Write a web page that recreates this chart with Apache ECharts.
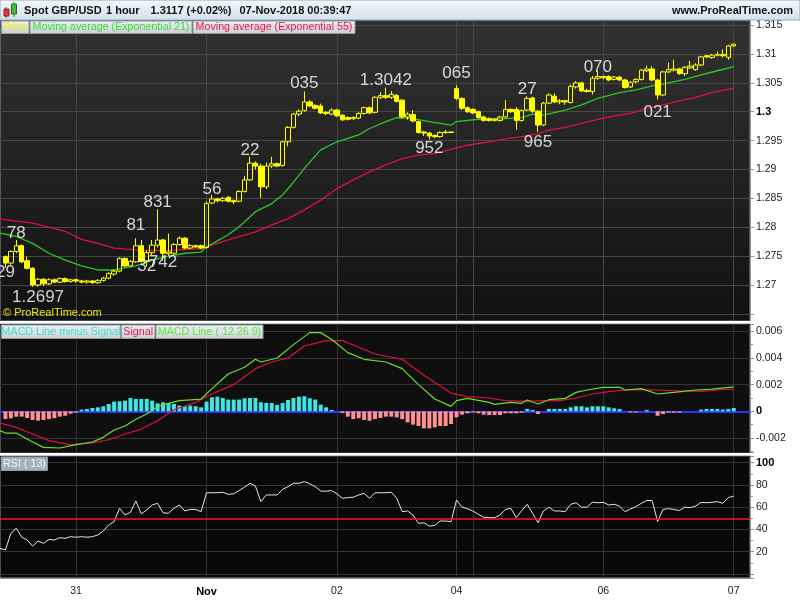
<!DOCTYPE html>
<html><head><meta charset="utf-8">
<script src="https://cdn.jsdelivr.net/npm/echarts@6/dist/echarts.min.js"></script>
<style>html,body{margin:0;padding:0;background:#fff}#c{width:800px;height:600px}</style>
</head><body><div id="c"></div>
<script>
// ---------- DATA ----------
const sessions = [['30-Oct',10,23],['31-Oct',0,23],['01-Nov',0,23],['02-Nov',0,21],['04-Nov',21,23],['05-Nov',0,23],['06-Nov',0,23],['07-Nov',0,3]];
const categories = [];
sessions.forEach(s => { for (let h = s[1]; h <= s[2]; h++) categories.push(s[0] + ' ' + String(h).padStart(2,'0') + ':00'); });

const xTickIndex = [14,38,62,84,111,135];
const xTickLabels = ['31','Nov','02','04','06','07'];
const xGridIndex = [14,38,62,84,87,111,135];

// [open, close, low, high]
const candles = [
null,
[1.2749,1.2738,1.2730,1.2751],[1.2738,1.2758,1.2735,1.2760],[1.2758,1.2768,1.2755,1.2778],[1.2768,1.2740,1.2738,1.2770],
[1.2742,1.2729,1.2727,1.2749],[1.2729,1.2700,1.2697,1.2731],[1.2700,1.2710,1.2697,1.2712],[1.2710,1.2702,1.2698,1.2712],
[1.2702,1.2709,1.2700,1.2712],[1.2709,1.2705,1.2703,1.2711],[1.2705,1.2711,1.2703,1.2713],[1.2711,1.2706,1.2704,1.2713],
[1.2706,1.2709,1.2704,1.2711],[1.2709,1.2707,1.2704,1.2711],[1.2707,1.2705,1.2703,1.2709],[1.2705,1.2707,1.2702,1.2709],
[1.2707,1.2704,1.2702,1.2709],[1.2704,1.2708,1.2702,1.2710],[1.2708,1.2712,1.2706,1.2714],[1.2712,1.2720,1.2710,1.2722],
[1.2719,1.2724,1.2716,1.2727],[1.2724,1.2746,1.2722,1.2748],[1.2746,1.2733,1.2731,1.2748],[1.2733,1.2741,1.2732,1.2743],
[1.2740,1.2768,1.2738,1.2781],[1.2768,1.2741,1.2739,1.2778],[1.2742,1.2756,1.2732,1.2760],[1.2756,1.2769,1.2752,1.2778],
[1.2769,1.2778,1.2765,1.2831],[1.2778,1.2755,1.2742,1.2780],[1.2754,1.2757,1.2750,1.2789],[1.2755,1.2770,1.2752,1.2773],
[1.2770,1.2781,1.2768,1.2784],[1.2781,1.2764,1.2762,1.2783],[1.2764,1.2768,1.2762,1.2771],[1.2768,1.2766,1.2764,1.2770],
[1.2768,1.2764,1.2762,1.2770],[1.2765,1.2841,1.2763,1.2845],[1.2842,1.2849,1.2840,1.2856],[1.2849,1.2846,1.2843,1.2851],
[1.2846,1.2850,1.2844,1.2853],[1.2852,1.2845,1.2843,1.2854],[1.2846,1.2844,1.2840,1.2848],[1.2845,1.2862,1.2843,1.2864],
[1.2862,1.2882,1.2860,1.2889],[1.2882,1.2911,1.2880,1.2922],[1.2911,1.2906,1.2900,1.2914],[1.2906,1.2870,1.2851,1.2910],
[1.2870,1.2906,1.2866,1.2912],[1.2906,1.2910,1.2903,1.2922],[1.2910,1.2906,1.2904,1.2912],[1.2907,1.2948,1.2905,1.2950],
[1.2948,1.2973,1.2940,1.2975],[1.2973,1.2996,1.2971,1.2998],[1.2996,1.3001,1.2992,1.3004],[1.3002,1.3017,1.3000,1.3035],
[1.3017,1.3010,1.3008,1.3020],[1.3011,1.3006,1.3004,1.3013],[1.3010,1.2998,1.2996,1.3014],[1.2999,1.2997,1.2994,1.3001],
[1.2996,1.3003,1.2994,1.3006],[1.3003,1.2993,1.2991,1.3005],[1.2994,1.2986,1.2984,1.2996],[1.2990,1.2987,1.2985,1.2992],
[1.2988,1.2990,1.2986,1.2992],[1.2989,1.2997,1.2987,1.2999],[1.2997,1.3007,1.2995,1.3009],[1.3007,1.2998,1.2996,1.3009],
[1.2999,1.3025,1.2997,1.3027],[1.3025,1.3028,1.3022,1.3034],[1.3028,1.3025,1.3022,1.3042],[1.3025,1.3030,1.3022,1.3036],
[1.3028,1.3018,1.3016,1.3031],[1.3020,1.2991,1.2988,1.3022],[1.2991,1.2996,1.2986,1.2999],[1.2995,1.2984,1.2982,1.3003],
[1.2983,1.2964,1.2962,1.2985],[1.2965,1.2963,1.2958,1.2967],[1.2963,1.2958,1.2952,1.2965],[1.2959,1.2957,1.2954,1.2961],
[1.2957,1.2964,1.2955,1.2966],[1.2964,1.2965,1.2962,1.2968],[1.2965,1.2964,1.2964,1.2965],[1.3040,1.3023,1.3020,1.3046],
[1.3023,1.3006,1.3003,1.3025],[1.3007,1.3000,1.2998,1.3009],[1.3004,1.2998,1.2996,1.3006],[1.3000,1.2990,1.2988,1.3002],
[1.2991,1.2985,1.2983,1.2993],[1.2988,1.2985,1.2983,1.2990],[1.2985,1.2987,1.2983,1.2989],[1.2985,1.2991,1.2983,1.2993],
[1.2991,1.3004,1.2989,1.3020],[1.3004,1.3000,1.2998,1.3006],[1.3004,1.2985,1.2969,1.3008],[1.2985,1.3002,1.2983,1.3004],
[1.3003,1.3023,1.3001,1.3027],[1.3024,1.3001,1.2998,1.3026],[1.3001,1.2977,1.2965,1.3003],[1.2977,1.3015,1.2975,1.3017],
[1.3015,1.3029,1.3013,1.3032],[1.3027,1.3017,1.3015,1.3032],[1.3017,1.3019,1.3013,1.3022],[1.3019,1.3017,1.3012,1.3021],
[1.3016,1.3044,1.3014,1.3047],[1.3043,1.3050,1.3040,1.3053],[1.3050,1.3036,1.3034,1.3052],[1.3037,1.3035,1.3033,1.3040],
[1.3035,1.3058,1.3030,1.3062],[1.3058,1.3061,1.3055,1.3070],[1.3061,1.3059,1.3056,1.3063],[1.3061,1.3055,1.3053,1.3063],
[1.3056,1.3060,1.3054,1.3062],[1.3060,1.3055,1.3053,1.3062],[1.3055,1.3042,1.3040,1.3057],[1.3043,1.3051,1.3041,1.3053],
[1.3052,1.3056,1.3049,1.3058],[1.3056,1.3072,1.3054,1.3074],[1.3071,1.3074,1.3069,1.3080],[1.3074,1.3055,1.3053,1.3079],
[1.3055,1.3029,1.3021,1.3057],[1.3029,1.3069,1.3027,1.3071],[1.3069,1.3073,1.3067,1.3085],[1.3072,1.3074,1.3070,1.3090],
[1.3074,1.3066,1.3064,1.3076],[1.3066,1.3077,1.3062,1.3079],[1.3076,1.3079,1.3074,1.3088],[1.3073,1.3081,1.3071,1.3084],
[1.3081,1.3095,1.3079,1.3097],[1.3097,1.3095,1.3093,1.3099],[1.3094,1.3098,1.3092,1.3100],[1.3098,1.3099,1.3096,1.3104],
[1.3099,1.3097,1.3094,1.3108],[1.3094,1.3114,1.3090,1.3116],[1.3114,1.3117,1.3112,1.3118]
];

// moving averages: [bar index, value]
const ema21 = [[0,1.2790],[3,1.2784],[6,1.2772],[9,1.2755],[12,1.2743],[15,1.2733],[18,1.2726],[21,1.2726],[25,1.2733],[28,1.2743],[31,1.2750],[34,1.2755],[37,1.2757],[38,1.2766],[42,1.2787],[44,1.2801],[47,1.2827],[50,1.2841],[52,1.2856],[54,1.2878],[56,1.2902],[59,1.2934],[62,1.2948],[66,1.2960],[68,1.2971],[71,1.2983],[73,1.2990],[76,1.2988],[79,1.2983],[83,1.2977],[84,1.2983],[88,1.2987],[93,1.2988],[96,1.2990],[98,1.2996],[100,1.2994],[104,1.3003],[107,1.3012],[110,1.3023],[114,1.3033],[117,1.3038],[120,1.3045],[123,1.3050],[126,1.3056],[129,1.3064],[132,1.3071],[135,1.3078]];
const ema55 = [[0,1.2814],[6,1.2807],[12,1.2793],[15,1.2779],[18,1.2772],[21,1.2764],[26,1.2760],[31,1.2760],[37,1.2763],[40,1.2772],[43,1.2781],[47,1.2792],[50,1.2804],[53,1.2815],[56,1.2830],[59,1.2847],[62,1.2867],[65,1.2882],[68,1.2896],[71,1.2908],[74,1.2919],[77,1.2925],[80,1.2928],[83,1.2935],[86,1.2942],[90,1.2948],[93,1.2953],[96,1.2957],[99,1.2962],[101,1.2968],[104,1.2973],[107,1.2980],[110,1.2987],[113,1.2993],[116,1.2997],[119,1.3006],[122,1.3012],[125,1.3019],[128,1.3025],[131,1.3033],[135,1.3041]];

// MACD (12 26 9)
const macdLine = [[0,-0.00145],[1,-0.00163],[3,-0.00163],[6,-0.0023],[8,-0.0027],[11,-0.00275],[14,-0.0025],[17,-0.0023],[19,-0.00195],[21,-0.0014],[23,-0.0011],[25,-0.0006],[27,-0.0002],[29,0.00037],[31,0.0006],[33,0.0008],[37,0.00092],[39,0.0017],[42,0.0028],[45,0.0033],[47,0.0039],[48,0.0037],[51,0.0040],[54,0.0050],[57,0.0059],[59,0.0059],[61,0.0054],[64,0.0044],[67,0.0039],[71,0.0037],[74,0.0032],[77,0.0020],[80,0.00092],[83,0.00037],[84,0.0008],[86,0.00097],[90,0.00067],[91,0.00052],[94,0.00067],[96,0.0006],[97,0.00085],[99,0.00055],[101,0.00087],[104,0.00097],[106,0.00142],[108,0.0016],[111,0.0018],[114,0.0018],[115,0.0016],[118,0.0017],[121,0.0013],[124,0.00142],[128,0.0016],[131,0.00167],[135,0.00184]];
const signalLine = [[0,-0.00088],[3,-0.0012],[6,-0.0017],[9,-0.0022],[13,-0.00252],[17,-0.00237],[20,-0.00213],[23,-0.0017],[26,-0.00133],[29,-0.0007],[32,0.00012],[36,0.00067],[39,0.0013],[43,0.0020],[47,0.0032],[50,0.0037],[53,0.0040],[56,0.0049],[60,0.0053],[63,0.0053],[66,0.0048],[69,0.0043],[74,0.0039],[76,0.0033],[78,0.0027],[81,0.0019],[83,0.00137],[86,0.0011],[90,0.0010],[93,0.0008],[97,0.00075],[100,0.0008],[103,0.0008],[106,0.0010],[109,0.0013],[112,0.00147],[115,0.0016],[118,0.00163],[121,0.0016],[125,0.00153],[129,0.0015],[132,0.0016],[135,0.00167]];
const macdHist = [null,
-0.00058,-0.00052,-0.0004,-0.0004,-0.0005,-0.00065,-0.0007,-0.00065,-0.00058,-0.00052,-0.0004,-0.00033,-0.00018,-0.0001,
0.00013,0.00018,0.00025,0.0003,0.00038,0.00055,0.00073,0.00075,0.0008,0.001,0.00093,0.00093,0.00093,0.0008,0.0006,0.00068,
0.00063,0.00055,0.00043,0.00038,0.00043,0.00038,0.0003,0.00073,0.00105,0.0011,0.001,0.00088,0.00088,0.00088,0.00098,0.001,
0.001,0.00068,0.00063,0.00063,0.00048,0.00063,0.00085,0.001,0.0011,0.00113,0.00098,0.00088,0.0005,0.0003,0.0001,0,
-0.00013,-0.0004,-0.00058,-0.00052,-0.00065,-0.0007,-0.00058,-0.0005,-0.0004,-0.0004,-0.00045,-0.00058,-0.00083,-0.001,
-0.0011,-0.00128,-0.00128,-0.0012,-0.0011,-0.0011,-0.00095,-0.00045,-0.00025,-0.00015,-0.00008,-0.00015,-0.00025,-0.00028,
-0.00028,-0.00028,-0.00015,-0.00015,-0.00015,-0.0001,0.00018,0.0001,-0.0002,0,0.00018,0.00018,0.00018,0.00018,0.0003,
0.00038,0.00038,0.0003,0.00038,0.00038,0.00038,0.0003,0.00023,0.00018,0,-0.00008,-0.00008,0,0.0001,0,-0.00033,-0.0002,
-0.0001,-0.0001,-0.0001,0,0,0,0.00013,0.00018,0.00018,0.00018,0.00013,0.00018,0.00025];

// RSI (13)
const rsi = [23,21.5,36.5,41,33,30.5,25,29.6,27.5,31,30.5,32.6,32,33.5,33,33.5,33,33.5,35,38.6,
44,47,59,53,55.4,65.6,54,57.5,62,63.5,55,54.5,59,62,56.6,58,58,56,73,73,
73,73.4,71.6,72,75,78,81.5,79,65,71,71,71,76,78.5,81.5,81.5,83,81,78.5,74.6,
74.3,75,72,68,68.6,69,71,72.5,68,73,73,73,73.4,68,56,56.6,53,45.5,46,43,
43.7,47.6,47.6,47,66.5,60,58.7,56.6,53.6,51,50.6,50.6,53,58,59,50.6,57,62.6,54.5,46,
56.6,60,56.6,56.6,56,62.6,64,60,60,64.4,64,64.4,62,62.6,61,56,58.4,60.5,63.5,66,
66,47,58,58.7,58,57,60,59.6,61,64.4,64,64.4,65,63.5,68.6,70];
const rsiMid = 50;

// analyst annotations on the price panel
const annoText  = ['29','78','1.2697','81','831','32','742','56','22','035','1.3042','952','065','27','965','070','021'];
const annoIndex = [1,3,7,25,29,27,30,39,46,56,71,79,84,97,99,110,121];
const annoLevel = [1.27216,1.27888,1.26792,1.28039,1.28437,1.27317,1.27398,1.28662,1.29338,1.30498,1.30550,1.29367,1.30671,1.30389,1.29467,1.30775,1.29996];

// ---------- CHART ----------
const FONT = '"Liberation Sans", Arial, sans-serif';
const AX = '#8c979f';
const tickMap = {}; xTickIndex.forEach((i, j) => { tickMap[categories[i]] = xTickLabels[j]; });
const RICH = {
  n: { fontSize: 10.5, lineHeight: 13, height: 13, verticalAlign: 'middle', color: '#1a1a1a', fontFamily: FONT },
  b: { fontSize: 11, lineHeight: 13, height: 13, verticalAlign: 'middle', fontWeight: 'bold', color: '#000', fontFamily: FONT }
};

function xAx(gi) {
  const o = {
    type: 'category', gridIndex: gi, data: categories, boundaryGap: false,
    axisTick: { show: false },
    axisLine: gi === 1 ? { show: true, onZero: true, lineStyle: { color: '#3030ff', width: 2 } }
                       : { show: gi === 2, onZero: false, lineStyle: { color: AX } },
    axisLabel: { show: false },
    splitLine: { show: true, interval: (i) => xGridIndex.indexOf(i) >= 0,
                 lineStyle: { color: gi === 0 ? '#474747' : '#333333', width: 1 } }
  };
  if (gi === 2) {
    o.axisLabel = {
      show: true, interval: (i) => xTickIndex.indexOf(i) >= 0, margin: 7, lineHeight: 13,
      formatter: (v) => { const t = tickMap[v] || ''; return t === '' ? '' : (t === 'Nov' ? '{b|Nov}' : '{n|' + t + '}'); },
      rich: RICH
    };
  }
  return o;
}
function yAx(gi, min, max, splitNumber, fmt, minor) {
  return {
    type: 'value', gridIndex: gi, position: 'right', min: min, max: max, splitNumber: splitNumber, scale: true,
    axisLine: { show: true, lineStyle: { color: AX } },
    axisTick: { show: true, length: 4, lineStyle: { color: AX } },
    minorTick: { show: !!minor, splitNumber: 2, length: 3, lineStyle: { color: AX } },
    axisLabel: { showMinLabel: false, showMaxLabel: false, margin: 6, lineHeight: 13,
      formatter: (v) => { const s = fmt(v); if (!s) return ''; return s.bold ? '{b|' + s.t + '}' : '{n|' + s.t + '}'; },
      rich: RICH },
    splitLine: { show: true, lineStyle: { color: gi === 0 ? '#474747' : '#333333', width: 1 } }
  };
}

const chart = echarts.init(document.getElementById('c'), null, { renderer: 'canvas' });
const legendBox = (x, y, w, h) => ({ type: 'rect', z: 100, shape: { x: x, y: y, width: w, height: h },
  style: { fill: { type: 'linear', x: 0, y: 0, x2: 0, y2: 1, colorStops: [{ offset: 0, color: '#eef1f3' }, { offset: 1, color: '#c8d0d6' }] }, stroke: '#8d9aa4', lineWidth: 1 } });
const txt = (x, y, text, fill, font, align) => ({ type: 'text', z: 101, x: x, y: y,
  style: { text: text, fill: fill, font: font, textAlign: align || 'left', align: align || 'left', textVerticalAlign: 'middle', verticalAlign: 'middle' } });

chart.setOption({
  animation: false,
  backgroundColor: '#ffffff',
  grid: [
    { left: 0, right: 50, top: 20, height: 300.5, show: true, borderColor: '#8796a2', borderWidth: 1,
      backgroundColor: { type: 'linear', x: 0, y: 0, x2: 0, y2: 1, colorStops: [{ offset: 0, color: '#323232' }, { offset: 1, color: '#111111' }] } },
    { left: 0, right: 50, top: 324, height: 128.5, show: true, borderColor: '#8796a2', borderWidth: 1, backgroundColor: '#0f0f0f' },
    { left: 0, right: 50, top: 456, height: 122, show: true, borderColor: '#8796a2', borderWidth: 1, backgroundColor: '#080808' }
  ],
  xAxis: [xAx(0), xAx(1), xAx(2)],
  yAxis: [
    yAx(0, 1.263853, 1.315887, 10, (v) => { if (v < 1.2675) return null; const s = String(parseFloat(v.toFixed(4))); return { t: s, bold: s === '1.3' }; }, false),
    yAx(1, -0.003087, 0.006547, 5, (v) => Math.abs(v) < 1e-9 ? { t: '0', bold: true } : { t: String(parseFloat(v.toFixed(4))), bold: false }, true),
    yAx(2, -3.64, 106.02, 5, (v) => { const r = Math.round(v); if (r <= 0) return null; return { t: String(r), bold: r === 100 }; }, true)
  ],
  graphic: [
    { type: 'rect', z: 100, shape: { x: 0, y: 0, width: 800, height: 20 },
      style: { fill: { type: 'linear', x: 0, y: 0, x2: 0, y2: 1, colorStops: [{ offset: 0, color: '#f2f8fc' }, { offset: 1, color: '#d2e2ec' }] }, stroke: '#9aa8b2', lineWidth: 1 } },
    { type: 'line', z: 101, shape: { x1: 6, y1: 7, x2: 6, y2: 18 }, style: { stroke: '#b02020', lineWidth: 1 } },
    { type: 'rect', z: 102, shape: { x: 4, y: 9, width: 5, height: 7 }, style: { fill: '#e03a3a', stroke: '#902020', lineWidth: 1 } },
    { type: 'line', z: 101, shape: { x1: 14, y1: 2, x2: 14, y2: 17 }, style: { stroke: '#208020', lineWidth: 1 } },
    { type: 'rect', z: 102, shape: { x: 11.5, y: 4, width: 5, height: 10 }, style: { fill: '#3cc03c', stroke: '#207020', lineWidth: 1 } },
    txt(24, 11, 'Spot GBP/USD', '#111', 'bold 11px ' + FONT),
    txt(106, 11, '1 hour', '#111', 'bold 11px ' + FONT),
    txt(150.5, 11, '1.3117 (+0.02%)', '#111', 'bold 11px ' + FONT),
    txt(239.5, 11, '07-Nov-2018 00:39:47', '#111', 'bold 11px ' + FONT),
    txt(793, 11, 'www.ProRealTime.com', '#111', 'bold 11px ' + FONT, 'right'),
    legendBox(1.5, 21, 27.5, 12.5), txt(15.2, 27.3, 'Price', '#f4f400', '10.7px ' + FONT, 'center'),
    legendBox(30, 21, 162, 12.5), txt(111, 27.3, 'Moving average (Exponential 21)', '#3ad83a', '10.7px ' + FONT, 'center'),
    legendBox(193, 21, 162, 12.5), txt(274, 27.3, 'Moving average (Exponential 55)', '#e8124a', '10.7px ' + FONT, 'center'),
    txt(3, 312.5, '\u00a9 ProRealTime.com', '#eeee00', '11px ' + FONT),
    legendBox(1.5, 325, 119, 13.5), txt(61, 331.8, 'MACD Line minus Signal', '#3ee0d2', '10.7px ' + FONT, 'center'),
    legendBox(121.5, 325, 33.5, 13.5), txt(138.2, 331.8, 'Signal', '#e8124a', '10.7px ' + FONT, 'center'),
    legendBox(156, 325, 107, 13.5), txt(209.5, 331.8, 'MACD Line ( 12 26 9)', '#5ee83a', '10.7px ' + FONT, 'center'),
    { type: 'rect', z: 100, shape: { x: 1.5, y: 457, width: 46, height: 13.5 }, style: { fill: '#a3b0ba', stroke: '#8d9aa4', lineWidth: 1 } },
    txt(24.5, 463.8, 'RSI ( 13)', '#f4f6f8', '10.7px ' + FONT, 'center')
  ],
  series: [
    { type: 'line', xAxisIndex: 0, yAxisIndex: 0, data: ema55, symbol: 'none', z: 2,
      lineStyle: { color: '#e0103c', width: 1.3 } },
    { type: 'line', xAxisIndex: 0, yAxisIndex: 0, data: ema21, symbol: 'none', z: 2,
      lineStyle: { color: '#2ac82a', width: 1.3 } },
    { type: 'candlestick', xAxisIndex: 0, yAxisIndex: 0, z: 3, barWidth: 5,
      data: candles.map(c => c ? c : '-'),
      itemStyle: { color: 'rgba(0,0,0,0)', color0: '#ffff00', borderColor: '#ffff00', borderColor0: '#ffff00', borderColorDoji: '#ffff00', borderWidth: 1 } },
    { type: 'scatter', xAxisIndex: 0, yAxisIndex: 0, z: 5, symbolSize: 1, itemStyle: { color: 'rgba(0,0,0,0)' },
      data: annoText.map((t, i) => ({ name: t, value: [annoIndex[i], annoLevel[i]] })),
      label: { show: true, position: 'inside', formatter: (p) => p.name, color: '#ffffff', fontSize: 17, fontFamily: FONT } },
    { type: 'bar', xAxisIndex: 1, yAxisIndex: 1, data: macdHist, barWidth: 4, z: 2,
      itemStyle: { color: (p) => p.value >= 0 ? '#3ee6e6' : '#ff9090' } },
    { type: 'line', xAxisIndex: 1, yAxisIndex: 1, data: signalLine, symbol: 'none', z: 3,
      lineStyle: { color: '#e0103c', width: 1.2 } },
    { type: 'line', xAxisIndex: 1, yAxisIndex: 1, data: macdLine, symbol: 'none', z: 4,
      lineStyle: { color: '#6ae02a', width: 1.2 } },
    { type: 'line', xAxisIndex: 2, yAxisIndex: 2, data: rsi, symbol: 'none', z: 3,
      lineStyle: { color: '#e6e6e6', width: 1 },
      markLine: { silent: true, symbol: 'none', label: { show: false }, lineStyle: { color: '#ff1030', width: 1.5, type: 'solid' },
                  data: [{ yAxis: rsiMid }] } }
  ]
});
</script></body></html>
